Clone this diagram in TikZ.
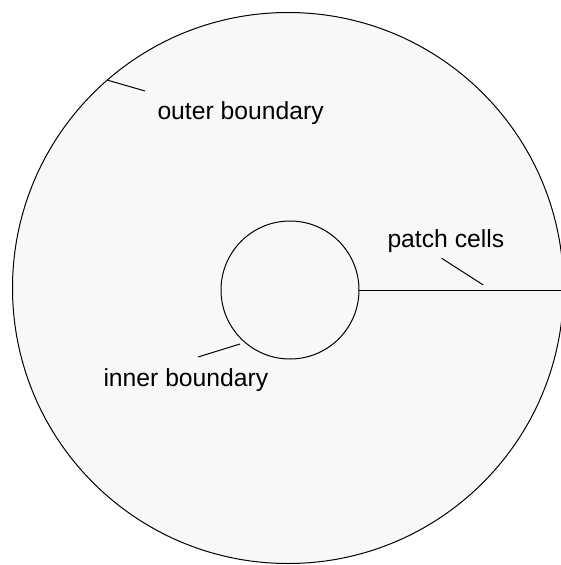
\documentclass[tikz,border=0pt]{standalone}
\usepackage{fontspec}
\setmainfont{Liberation Sans}
\definecolor{ringgray}{HTML}{F8F8F8}
\begin{document}
\begin{tikzpicture}[x=1pt,y=-1pt, line width=1pt,
  ring/.style={circle, draw=black, fill=ringgray, inner sep=0pt, outer sep=0pt},
  lbl/.style={anchor=base west, inner sep=0pt, font=\fontsize{24.7}{29}\selectfont},
  leader/.style={draw=black, line width=1pt}]
\useasboundingbox (0,0) rectangle (560,565);
\node[ring, minimum size=551pt] (outer) at (288,288) {};
\node[ring, minimum size=138pt] (inner) at (290,290) {};
% patch cells line
\draw[leader] (inner.east) -- (inner.east -| outer.east);
% labels
\node[lbl] (lout) at (157,119) {outer boundary};
\node[lbl] (lpatch) at (387,247) {patch cells};
\node[lbl] (lin) at (103,386.5) {inner boundary};
% leader lines
\coordinate (oa) at (outer.131);
\coordinate (ob) at (145,91);
\coordinate (pa) at (441.7,258.3);
\coordinate (pb) at (483.3,285);
\coordinate (ia) at (240,344);
\coordinate (ib) at (198,357);
\draw[leader] (oa) -- (ob);
\draw[leader] (pa) -- (pb);
\draw[leader] (ia) -- (ib);
\end{tikzpicture}
\end{document}
